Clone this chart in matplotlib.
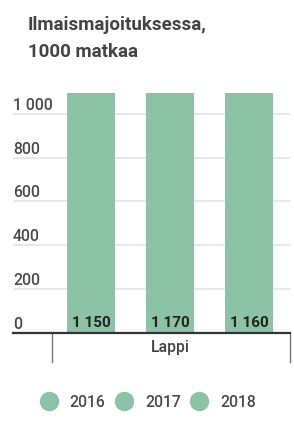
import matplotlib
matplotlib.use("Agg")
import matplotlib.pyplot as plt
from matplotlib.lines import Line2D
import matplotlib.transforms as mtransforms

plt.rcParams['font.family'] = ['Roboto', 'DejaVu Sans']

title = "Ilmaismajoituksessa,\n1000 matkaa"
category = "Lappi"
years = ["2016", "2017", "2018"]
values = [1150, 1170, 1160]
value_labels = ["1 150", "1 170", "1 160"]
yticks = [0, 200, 400, 600, 800, 1000]
ytick_labels = ["0", "200", "400", "600", "800", "1 000"]

bar_color = "#8cc3a6"
grid_color = "#e4e4e4"
text_color = "#4a4a4a"

fig = plt.figure(figsize=(2.94, 4.23), dpi=100)
ax = fig.add_axes([13/294, 1-333/423, (290-13)/294, (333-93)/423])

ax.set_xlim(-0.99, 2.52)
ax.set_ylim(0, 1095)

for i, (yr, v) in enumerate(zip(years, values)):
    ax.bar(i, v, width=0.608, color=bar_color, zorder=2, label=yr)

for t, lab in zip(yticks, ytick_labels):
    if t > 0:
        ax.axhline(t, color=grid_color, lw=1.2, zorder=1)
    off = mtransforms.offset_copy(ax.get_yaxis_transform(), fig=fig, x=0, y=4, units='dots')
    ax.text(0, t, lab, transform=off, ha='left', va='baseline',
            fontsize=11.3, color=text_color, fontweight='medium', zorder=3)

for i, lab in enumerate(value_labels):
    ax.annotate(lab, xy=(i, 0), xytext=(0, 4.5), textcoords='offset points',
                ha='center', va='baseline', fontsize=11, fontweight='bold',
                color='#222222', zorder=4)

ax.axhline(0, color='#333333', lw=1.6, zorder=5, clip_on=False)

for s in ax.spines.values():
    s.set_visible(False)
ax.set_xticks([])
ax.set_yticks([])

tr = ax.get_xaxis_transform()
for xs in (-0.5, 2.52):
    ax.plot([xs, xs], [0, -0.122], transform=tr, color='#777777', lw=1.0, clip_on=False)
ax.text(1.0, -0.06, category, transform=tr, ha='center', va='center',
        fontsize=11.3, color='#444444', fontweight='medium')

title_lines = title.split("\n")
fig.text(28/294, 1-25/423, title_lines[0], ha='left', va='center',
         fontsize=13.5, fontweight='bold', color='#444444')
fig.text(28/294, 1-52/423, title_lines[1], ha='left', va='center',
         fontsize=13.5, fontweight='bold', color='#444444')

handles = [Line2D([], [], marker='o', ls='none', markersize=13,
                  markerfacecolor=bar_color, markeredgecolor=bar_color) for _ in years]
fig.legend(handles, years, loc='center', bbox_to_anchor=(148/294, 1-402/423),
           ncol=3, frameon=False, handlelength=1.1,
           handletextpad=0.8, columnspacing=0.62,
           prop={'weight': 'medium', 'size': 11.3}, labelcolor='#4a4a4a')

fig.savefig("out.png", dpi=100)
